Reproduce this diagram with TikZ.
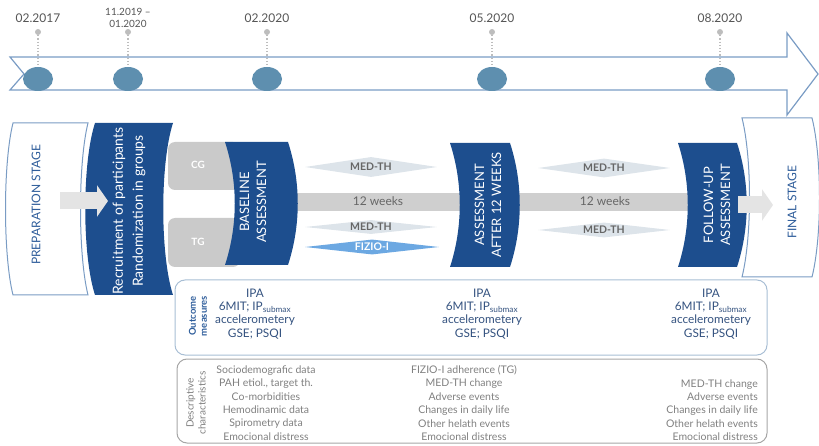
\documentclass[tikz,border=0pt]{standalone}
\usepackage{fontspec}
\setmainfont{Lato}
\usetikzlibrary{shapes.geometric,arrows.meta}
\definecolor{navy}{HTML}{1D4E8E}
\definecolor{stageblue}{HTML}{2D5C9A}
\definecolor{lineblue}{HTML}{7A9CC4}
\definecolor{dotblue}{HTML}{5E8FAF}
\definecolor{pingray}{HTML}{BDBDBD}
\definecolor{datetxt}{HTML}{555555}
\definecolor{bandgray}{HTML}{CFCFCF}
\definecolor{arrowgray}{HTML}{E4E4E4}
\definecolor{boxgray}{HTML}{CACACA}
\definecolor{medth}{HTML}{DDE4EA}
\definecolor{medtxt}{HTML}{666666}
\definecolor{fizio}{HTML}{6CA8E2}
\definecolor{outblue}{HTML}{34527F}
\definecolor{descgray}{HTML}{808080}
\definecolor{frameblue}{HTML}{A8BED4}
\definecolor{framegray}{HTML}{A6A6A6}
\newcommand{\slab}[5]{(#1,#3) -- (#2,#3) .. controls +(#5,40) and +(#5,-40) .. (#2,#4) -- (#1,#4) .. controls +(#5,-40) and +(#5,40) .. (#1,#3) -- cycle}
\tikzset{
  datelbl/.style={text=datetxt, font=\fontsize{12}{12}\selectfont, align=center, inner sep=0},
  pinpt/.style={circle, fill=pingray, inner sep=0, minimum size=6},
  milestone/.style={ellipse, fill=dotblue, inner sep=0, minimum width=30, minimum height=24},
  stagelbl/.style={rotate=90, text=stageblue, font=\fontsize{12}{14}\selectfont, inner sep=0},
  phaselbl/.style={rotate=90, text=white, align=center, font=\fontsize{13}{17}\selectfont, inner sep=0},
  grpbox/.style={fill=boxgray, rounded corners=7},
  grplbl/.style={text=white, font=\bfseries\fontsize{10}{10}\selectfont, inner sep=0},
  therapy/.style={diamond, aspect=10, fill=medth, text=medtxt, inner sep=0, minimum width=132, font=\bfseries\fontsize{10.5}{10.5}\selectfont},
  weeks/.style={text=medtxt, font=\fontsize{12}{12}\selectfont, inner sep=0},
  band/.style={draw=bandgray, line width=18},
  blockarrow/.style={draw=arrowgray, line width=17, -{Triangle[length=11pt,width=31pt]}},
  frame/.style={draw, rounded corners=10, line width=1, inner sep=0},
  sidelbl/.style={rotate=90, align=center, inner sep=0},
  outtxt/.style={text=outblue, align=center, inner sep=0, font=\fontsize{11.8}{13.2}\selectfont},
  desctxt/.style={text=descgray, inner sep=0, font=\fontsize{10.5}{13.4}\selectfont}
}
\begin{document}
\begin{tikzpicture}[x=1pt,y=-1pt]
  \useasboundingbox (0,0) rectangle (819,446);
  \draw[lineblue, line width=1.2, line join=miter]
    (10,57) -- (787,57) -- (787,33) -- (818,74) -- (787,115) -- (787,90) -- (10,90) -- (24,74) -- cycle;

  \node[datelbl] (d1) at (38,18) {02.2017};
  \node[datelbl, font=\fontsize{10}{12}\selectfont] (d2) at (128,18) {11.2019 --\\01.2020};
  \node[datelbl] (d3) at (267,18) {02.2020};
  \node[datelbl] (d4) at (492,18) {05.2020};
  \node[datelbl] (d5) at (720,18) {08.2020};
  \foreach \i/\x in {1/38,2/128,3/267,4/492,5/720} {
    \node[pinpt] (p\i) at (\x,32) {};
    \node[milestone] (e\i) at (\x,79) {};
  }
  \begin{scope}[pingray, line width=1.2, dotted]
    \draw (p1) -- (e1);
    \draw (p2) -- (e2);
    \draw (p3) -- (e3);
    \draw (p4) -- (e4);
    \draw (p5) -- (e5);
  \end{scope}

  \node[frame, draw=frameblue, minimum width=592, minimum height=75] (outc) at (471,317.5) {};
  \node[frame, draw=framegray, minimum width=590, minimum height=84] (desc) at (472,401) {};

  \coordinate (bandL) at (290,202);
  \coordinate (bandR) at (690,202);
  \draw[band] (bandL) -- (bandR);

  \filldraw[fill=white, draw=lineblue, line width=1] \slab{13}{88}{123}{295}{-10};
  \fill[navy] \slab{95}{173}{123}{295}{-13};
  \fill[grpbox] (168,142) rectangle (240,190);
  \fill[grpbox] (168,218) rectangle (240,267);
  \fill[navy] \slab{225}{288}{142}{265}{13};
  \fill[navy] \slab{450}{510}{143}{267}{13};
  \fill[navy] \slab{678}{737}{143}{267}{13};
  \filldraw[fill=white, draw=lineblue, line width=1] \slab{742}{812}{118}{277}{10};

  \node[stagelbl] (prep) at (36,205) {PREPARATION STAGE};
  \node[phaselbl, font=\fontsize{14}{20}\selectfont] (recr) at (129,211) {Recruitment of participants\\Randomization in groups};
  \node[grplbl] (cg) at (198,165) {CG};
  \node[grplbl] (tg) at (198,242) {TG};
  \node[phaselbl] (base) at (253,202) {BASELINE\\ASSESSMENT};
  \node[phaselbl] (after) at (488,205) {ASSESSMENT\\AFTER 12 WEEKS};
  \node[phaselbl] (fu) at (717,205) {FOLLOW-UP\\ASSESSMENT};
  \node[stagelbl] (final) at (792,202) {FINAL STAGE};

  \coordinate (a1s) at (60,201);
  \coordinate (a1e) at (108,201);
  \coordinate (a2s) at (738,205);
  \coordinate (a2e) at (773,205);
  \begin{scope}[blockarrow]
    \draw (a1s) -- (a1e);
    \draw (a2s) -- (a2e);
  \end{scope}

  \node[weeks] (wk1) at (378,201) {12 weeks};
  \node[weeks] (wk2) at (605,201) {12 weeks};
  \node[therapy, minimum height=20] (med1) at (371,167) {MED-TH};
  \node[therapy, minimum height=14] (med2) at (371,227) {MED-TH};
  \node[therapy, minimum height=15, minimum width=134, fill=fizio, text=white] (fiz) at (372,247) {FIZIO-I};
  \node[therapy, minimum height=19] (med3) at (604,168) {MED-TH};
  \node[therapy, minimum height=15] (med4) at (604,230) {MED-TH};

  \node[sidelbl, text=stageblue, font=\bfseries\fontsize{9.5}{11}\selectfont] (outlbl) at (198,316) {Outcome\\measures};
  \node[outtxt] (oc1) at (255,314) {IPA\\6MIT; IP\textsubscript{submax}\\accelerometery\\GSE; PSQI};
  \node[outtxt] (oc2) at (482,314) {IPA\\6MIT; IP\textsubscript{submax}\\accelerometery\\GSE; PSQI};
  \node[outtxt] (oc3) at (711,314) {IPA\\6MIT; IP\textsubscript{submax}\\accelerometery\\GSE; PSQI};

  \node[sidelbl, text=descgray, font=\fontsize{10}{12}\selectfont] (desclbl) at (196,403) {Descriptive\\characteristics};
  \node[desctxt, align=center] (dc1) at (266,403) {Sociodemografic data\\PAH etiol., target th.\\Co-morbidities\\Hemodinamic data\\Spirometry data\\Emocional distress};
  \node[desctxt, align=center] (dc2) at (464,403) {FIZIO-I adherence (TG)\\MED-TH change\\Adverse events\\Changes in daily life\\Other helath events\\Emocional distress};
  \node[desctxt, align=right, anchor=east] (dc3) at (758,410) {MED-TH change\\Adverse events\\Changes in daily life\\Other helath events\\Emocional distress};
\end{tikzpicture}
\end{document}
